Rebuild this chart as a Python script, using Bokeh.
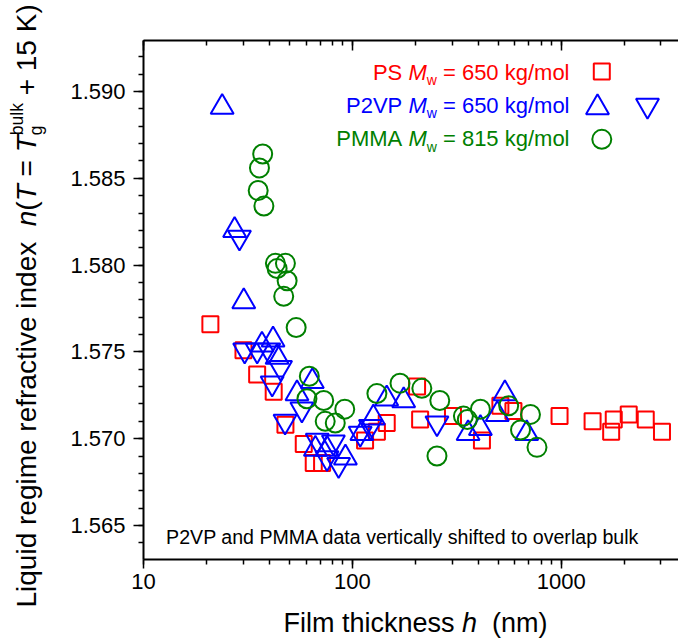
import math
from bokeh.plotting import figure
from bokeh.layouts import row, column
from bokeh.models import (Range1d, LogAxis, LogTicker, SingleIntervalTicker,
                          PrintfTickFormatter, CustomJSTickFormatter, Label)
from bokeh.embed import file_html
from bokeh.resources import INLINE

# ---------------- data ----------------
ps_h = [20.9, 30.1, 35.0, 42.0, 47.8, 58.5, 65.3, 71.6, 115, 131, 146, 204, 211,
        303, 417, 511, 590, 981, 1412, 1733, 1783, 2103, 2537, 3034]
ps_n = [1.5766, 1.5751, 1.5737, 1.5727, 1.5708, 1.5697, 1.5686, 1.5686, 1.5699,
        1.5704, 1.5709, 1.5730, 1.5711, 1.5713, 1.5699, 1.5719, 1.5716, 1.5713,
        1.5710, 1.5704, 1.5711, 1.5714, 1.5711, 1.5704]

p2vp_up_h = [23.8, 27.3, 30.2, 36.9, 41.7, 43.6, 54.3, 64.3, 66.5, 75.6, 92.6,
             111, 126, 146, 176, 358, 410, 494, 537, 683]
p2vp_up_n = [1.5891, 1.5820, 1.5779, 1.5754, 1.5757, 1.5747, 1.5726, 1.5733,
             1.5694, 1.5694, 1.5689, 1.5703, 1.5712, 1.5723, 1.5722, 1.5703,
             1.5706, 1.5714, 1.5726, 1.5703]

p2vp_down_h = [28.8, 30.5, 35.0, 39.8, 45.3, 41.3, 47.6, 57.3, 67.9, 81.1, 75.6,
               85.9, 109, 122, 254]
p2vp_down_n = [1.5816, 1.5751, 1.5751, 1.5751, 1.5741, 1.5732, 1.5710, 1.5717,
               1.5699, 1.5698, 1.5689, 1.5685, 1.5703, 1.5707, 1.5709]

pmma_h = [37.2, 35.9, 35.4, 37.7, 42.8, 47.8, 43.6, 48.7, 46.9, 53.8, 62.2, 60.6,
          72.9, 91.9, 74.1, 82.8, 131, 169, 215, 262, 254, 340, 355, 410, 560,
          712, 638, 765]
pmma_n = [1.5864, 1.5856, 1.5843, 1.5834, 1.5801, 1.5801, 1.5798, 1.5791, 1.5782,
          1.5764, 1.5736, 1.5723, 1.5722, 1.5717, 1.5710, 1.5709, 1.5726, 1.5732,
          1.5729, 1.5722, 1.5690, 1.5713, 1.5711, 1.5717, 1.5719, 1.5714, 1.5705,
          1.5695]

legend_names = ["PS ", "P2VP ", "PMMA "]
legend_values = [" = 650 kg/mol", " = 650 kg/mol", " = 815 kg/mol"]
note_text = "P2VP and PMMA data vertically shifted to overlap bulk"

# ---------------- layout ----------------
W, H = 678, 642
YLW = 60            # width of the strip holding the y title
XLH = 37            # height of the strip holding the x title
MW, MH = W - YLW, H - XLH
FL, FR, FT, FB = 143, 678, 40, 559      # frame in page pixels
X0, X1 = 10.0, 3640.0
Y0, Y1 = 1.56304, 1.59294
FONT = "Liberation Sans"
RED, BLUE, GREEN = "#ff0000", "#0000ff", "#008000"
MID = 0.35          # middle of the text box above the baseline (em)


def dx(px):
    return 10 ** (math.log10(X0) + (px - FL) / (FR - FL) * (math.log10(X1) - math.log10(X0)))


def dy(py):
    return Y0 + (FB - py) / (FB - FT) * (Y1 - Y0)


ident = lambda v: v

# Arial / Liberation Sans advance widths (per 1000 em)
AW = {' ': 278, '(': 333, ')': 333, '+': 584, '.': 278, '/': 278, '=': 584,
      '0': 556, '1': 556, '2': 556, '3': 556, '4': 556, '5': 556, '6': 556,
      '7': 556, '8': 556, '9': 556, 'A': 667, 'F': 611, 'K': 667, 'L': 556,
      'M': 833, 'P': 667, 'S': 667, 'T': 611, 'V': 667, 'a': 556, 'b': 556,
      'c': 500, 'd': 556, 'e': 556, 'f': 278, 'g': 556, 'h': 556, 'i': 222,
      'k': 500, 'l': 222, 'm': 833, 'n': 556, 'o': 556, 'p': 556, 'q': 556,
      'r': 333, 's': 500, 't': 278, 'u': 556, 'v': 500, 'w': 722, 'x': 500,
      'y': 500}


def tw(s, size):
    return sum(AW.get(c, 556) for c in s) * size / 1000.0


def add_text(fig, fx, fy, px, py, text, size, color="black", style="normal", vertical=False):
    # (px, py): start of the baseline in page pixels; anchored at the text middle
    if vertical:
        px = px - MID * size
    else:
        py = py - MID * size
    fig.add_layout(Label(x=fx(px), y=fy(py), text=text, text_font=FONT,
                         text_font_size=f"{size}px", text_font_style=style,
                         text_color=color, text_align="left",
                         text_baseline="middle",
                         angle=math.pi / 2 if vertical else 0.0))


def compose(fig, fx, fy, pieces, start, base, color="black", vertical=False):
    pos = 0.0
    for text, size, style, shift, adv in pieces:
        lead = len(text) - len(text.lstrip(" "))
        t = text.strip(" ")
        off = pos + tw(" " * lead, size)
        if vertical:
            add_text(fig, fx, fy, base - shift, start - off, t, size, color, style, True)
        else:
            add_text(fig, fx, fy, start + off, base - shift, t, size, color, style)
        pos += tw(text, size) if adv is None else adv


# ---------------- main figure ----------------
p = figure(width=MW, height=MH, x_axis_type="log",
           x_range=Range1d(X0, X1), y_range=Range1d(Y0, Y1),
           output_backend="svg", toolbar_location=None,
           min_border_left=FL - YLW, min_border_right=0,
           min_border_top=FT, min_border_bottom=MH - FB)
p.outline_line_color = None
p.grid.visible = False
p.background_fill_color = "white"
p.border_fill_color = "white"

xa = p.xaxis[0]
xa.ticker = LogTicker(mantissas=[1], num_minor_ticks=10)
xa.formatter = PrintfTickFormatter(format="%d")
xa.major_label_text_font = FONT
xa.major_label_text_font_size = "22px"
xa.major_label_text_color = "black"
xa.major_label_standoff = 5
xa.major_tick_out = 9
xa.major_tick_in = 0
xa.minor_tick_out = 5
xa.minor_tick_in = 0
xa.axis_line_width = 2
xa.major_tick_line_width = 1.5
xa.minor_tick_line_width = 1.5

ya = p.yaxis[0]
ya.ticker = SingleIntervalTicker(interval=0.005, num_minor_ticks=5)
ya.formatter = PrintfTickFormatter(format="%.3f")
ya.major_label_text_font = FONT
ya.major_label_text_font_size = "22px"
ya.major_label_text_color = "black"
ya.major_label_standoff = 8
ya.major_tick_out = 10
ya.major_tick_in = 0
ya.minor_tick_out = 5
ya.minor_tick_in = 0
ya.axis_line_width = 2
ya.major_tick_line_width = 1.5
ya.minor_tick_line_width = 1.5

top = LogAxis(ticker=LogTicker(mantissas=[1], num_minor_ticks=10),
              formatter=CustomJSTickFormatter(code="return ''"),
              major_tick_in=10, major_tick_out=0, minor_tick_in=5, minor_tick_out=0,
              axis_line_width=2, major_tick_line_width=1.5, minor_tick_line_width=1.5,
              major_label_text_font_size="1px", major_label_standoff=0)
p.add_layout(top, "above")

p.scatter(ps_h, ps_n, marker="square", size=16, fill_color=None,
          line_color=RED, line_width=2)
p.scatter(p2vp_up_h, p2vp_up_n, marker="triangle", size=23, fill_color=None,
          line_color=BLUE, line_width=2)
p.scatter(p2vp_down_h, p2vp_down_n, marker="inverted_triangle", size=23,
          fill_color=None, line_color=BLUE, line_width=2)
p.scatter(pmma_h, pmma_n, marker="circle", size=19, fill_color=None,
          line_color=GREEN, line_width=2)

# legend (text composed from pieces, symbols to the right)
LS, LSS = 22, 14
row_base = [79.2, 112.7, 146]
for name, val, col, yb in zip(legend_names, legend_values, [RED, BLUE, GREEN], row_base):
    pieces = [(name, LS, "normal", 0, None),
              ("M", LS, "italic", 0, None),
              ("w", LSS, "normal", -5, None),
              (val, LS, "normal", 0, None)]
    total = sum(tw(t, s) for t, s, _, _, _ in pieces)
    compose(p, dx, dy, pieces, 569 - total, yb, col)

p.scatter([dx(601.3)], [dy(71)], marker="square", size=16, fill_color=None,
          line_color=RED, line_width=2)
p.scatter([dx(597)], [dy(107)], marker="triangle", size=23, fill_color=None,
          line_color=BLUE, line_width=2)
p.scatter([dx(647)], [dy(105)], marker="inverted_triangle", size=23, fill_color=None,
          line_color=BLUE, line_width=2)
p.scatter([dx(601.3)], [dy(138.8)], marker="circle", size=19, fill_color=None,
          line_color=GREEN, line_width=2)

add_text(p, dx, dy, 165.6, 543, note_text, 19.6)


# ---------------- title strips (data coordinates = page pixels) ----------------
def strip(w, h, border_left, x0, x1, ytop, ybot):
    f = figure(width=w, height=h, x_range=Range1d(x0, x1), y_range=Range1d(ybot, ytop),
               output_backend="svg", toolbar_location=None,
               x_axis_location=None, y_axis_location=None,
               min_border_left=border_left, min_border_right=0,
               min_border_top=0, min_border_bottom=0)
    f.outline_line_color = None
    f.grid.visible = False
    f.background_fill_color = "white"
    f.border_fill_color = "white"
    return f


# x title strip (below the main figure, frame aligned with the main frame)
xl = strip(MW, XLH, FL - YLW, FL, FR, MH, H)
XS = 27
compose(xl, ident, ident,
        [("Film thickness ", XS, "normal", 0, None),
         ("h", XS, "italic", 0, None),
         ("  (nm)", XS, "normal", 0, None)], 283, 632)

# y title strip (left of everything)
yl = strip(YLW, H, 0, 0, YLW, 0, H)
YS, YSS = 28, 17.5
compose(yl, ident, ident,
        [("Liquid regime refractive index  ", YS, "normal", 0, None),
         ("n", YS, "italic", 0, None),
         ("(", YS, "normal", 0, None),
         ("T", YS, "italic", 0, None),
         (" = ", YS, "normal", 0, None),
         ("T", YS, "italic", 0, None),
         ("g", YSS, "normal", -6, 0.0),
         ("bulk", YSS, "normal", 12.5, None),
         (" + 15 K)", YS, "normal", 0, None)], 607, 35.5, vertical=True)

layout = row(yl, column(p, xl, spacing=0), spacing=0)
open("out.html", "w").write(file_html(layout, INLINE))
